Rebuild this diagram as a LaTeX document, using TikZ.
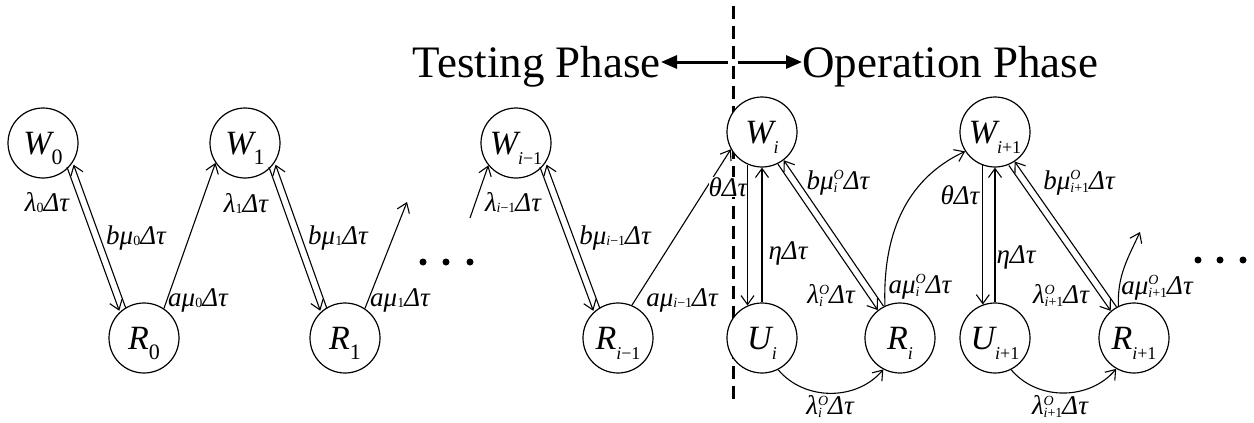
\documentclass[tikz,border=0pt]{standalone}
\usepackage{fontspec}
\setmainfont{Liberation Serif}
\usetikzlibrary{arrows.meta,calc,positioning}

% subscripts: in a state, in a rate, and O over a subscript
\newcommand{\ns}[2][22]{\raisebox{-10pt}{\fontsize{#1}{#1}\selectfont #2}}
\newcommand{\rs}[1]{\raisebox{-1pt}{\fontsize{14}{14}\selectfont #1}}
\newcommand{\rso}[1]{\raisebox{-2.5pt}{\fontsize{14}{14}\selectfont\def\arraystretch{0.7}%
  \begin{tabular}[b]{@{}l@{}}O\\#1\end{tabular}}}

\tikzset{
  state/.style={circle, draw, fill=white, line width=1.2pt, minimum size=70pt,
    inner sep=0pt, text depth=0pt, font=\fontsize{34}{34}\selectfont\itshape},
  rate/.style={inner sep=1pt, font=\fontsize{27}{27}\selectfont\itshape},
  trans/.style={line width=1.1pt, -{Straight Barb[length=9pt,width=13pt,line width=1.1pt]}},
  phase/.style={inner sep=0pt, text depth=0pt, font=\fontsize{45}{45}\selectfont},
  phasearrow/.style={line width=3pt, -{Triangle[length=16pt,width=13pt]}},
  divider/.style={line width=3pt, dash pattern=on 13pt off 7pt},
}

\begin{document}
\begin{tikzpicture}[x=1pt, y=-1pt]
	\useasboundingbox (0,0) rectangle (1254,423);

	% === phase divider ===
	\coordinate (divtop) at (733,6);
	\coordinate (divbot) at (733,406);
	\draw[divider] (divtop) -- (divbot);

	\node[phase, anchor=base east] (testing) at (661,77) {Testing Phase};
	\node[phase, anchor=base west] (operation) at (802,77) {Operation Phase};
	\coordinate (divL) at (728,62);
	\coordinate (divR) at (738,62);
	\draw[phasearrow] (divL) -- (divL -| testing.east);
	\draw[phasearrow] (divR) -- (divR -| operation.west);

	% === states ===
	\node[state] (W0)  at (43,143)   {W\ns{\upshape 0}};
	\node[state] (R0)  at (144,338)  {R\ns{\upshape 0}};
	\node[state] (W1)  at (245,143)  {W\ns{\upshape 1}};
	\node[state] (R1)  at (345,338)  {R\ns{\upshape 1}};
	\node[state] (Wim) at (516,143)  {W\ns[18]{i\upshape −1}};
	\node[state] (Rim) at (618,338)  {R\ns[18]{i\upshape −1}};
	\node[state] (Wi)  at (762,132)  {W\ns[18]{i}};
	\node[state] (Ui)  at (762,338)  {U\ns[18]{i}};
	\node[state] (Ri)  at (900,338)  {R\ns[18]{i}};
	\node[state] (Wip) at (995,132)  {W\ns[18]{i\upshape +1}};
	\node[state] (Uip) at (995,338)  {U\ns[18]{i\upshape +1}};
	\node[state] (Rip) at (1134,338) {R\ns[18]{i\upshape +1}};

	% free ends
	\coordinate (outR1)  at (407,202);
	\coordinate (inWim)  at (470,218);
	\coordinate (outRip) at (1140,232);

	% === testing phase ===
	\foreach \w/\r in {W0/R0, W1/R1, Wim/Rim} {
		\draw[trans] ($(\w.-40)!3.5pt!-90:(\r.127)$) -- ($(\r.127)!3.5pt!90:(\w.-40)$);	% failure
		\draw[trans] ($(\r.127)!3.5pt!-90:(\w.-40)$) -- ($(\w.-40)!3.5pt!90:(\r.127)$);	% repair
	}
	\draw[trans] (R0.56) -- (W1.214);
	\draw[trans] (R1.56) -- (outR1);
	\draw[trans] (inWim) -- (Wim.219);
	\draw[trans] (Rim.67) -- (Wi.209);

	% === operation phase ===
	\draw[trans] (Wi.-114) -- (Ui.114);
	\draw[trans] (Ui.north) -- (Wi.south);
	\draw[trans] ($(Wi.-58)!3.5pt!-90:(Ri.123)$) -- ($(Ri.123)!3.5pt!90:(Wi.-58)$);
	\draw[trans] ($(Ri.123)!3.5pt!-90:(Wi.-58)$) -- ($(Wi.-58)!3.5pt!90:(Ri.123)$);
	\draw[trans] (Ui.-63) to[out=-50, in=-130] (Ri.-118);
	\draw[trans] (Ri.115) to[out=92, in=205] (Wip.213);

	\draw[trans] (Wip.-110) -- (Uip.110);
	\draw[trans] (Uip.north) -- (Wip.south);
	\draw[trans] ($(Wip.-62)!3.5pt!-90:(Rip.125)$) -- ($(Rip.125)!3.5pt!90:(Wip.-62)$);
	\draw[trans] ($(Rip.125)!3.5pt!-90:(Wip.-62)$) -- ($(Wip.-62)!3.5pt!90:(Rip.125)$);
	\draw[trans] (Uip.-63) to[out=-50, in=-130] (Rip.-120);
	\draw[trans] (Rip.116) to[out=92, in=245] (outRip);

	% === rates ===
	\node[rate] (l0)  at (47,203)   {λ\rs{\upshape 0}Δτ};
	\node[rate] (m0)  at (136,238)  {bμ\rs{\upshape 0}Δτ};
	\node[rate] (a0)  at (198,300)  {aμ\rs{\upshape 0}Δτ};
	\node[rate] (l1)  at (246,203)  {λ\rs{\upshape 1}Δτ};
	\node[rate] (m1)  at (338,238)  {bμ\rs{\upshape 1}Δτ};
	\node[rate] (a1)  at (400,300)  {aμ\rs{\upshape 1}Δτ};
	\node[rate] (lim) at (513,202)  {λ\rs{i\upshape −1}Δτ};
	\node[rate] (mim) at (615,238)  {bμ\rs{i\upshape −1}Δτ};
	\node[rate] (aim) at (682,300)  {aμ\rs{i\upshape −1}Δτ};

	\node[rate, fill=white, inner sep=0pt] (thi) at (728,187) {θΔτ};
	\node[rate] (mi)  at (838,183)  {bμ\rso{i}Δτ};
	\node[rate] (eti) at (788,253)  {ηΔτ};
	\node[rate] (li)  at (831,297)  {λ\rso{i}Δτ};
	\node[rate] (ai)  at (920,287)  {aμ\rso{i}Δτ};
	\node[rate] (lui) at (830,408)  {λ\rso{i}Δτ};

	\node[rate] (thp) at (960,195)  {θΔτ};
	\node[rate] (etp) at (1016,257) {ηΔτ};
	\node[rate] (mp)  at (1079,183) {bμ\rso{i\upshape +1}Δτ};
	\node[rate] (lp)  at (1061,297) {λ\rso{i\upshape +1}Δτ};
	\node[rate] (ap)  at (1157,288) {aμ\rso{i\upshape +1}Δτ};
	\node[rate] (lup) at (1060,408) {λ\rso{i\upshape +1}Δτ};

	% === dots ===
	\foreach \x in {423,446,470} \fill (\x,262) circle[radius=3.5pt];
	\foreach \x in {1198,1220,1243} \fill (\x,260) circle[radius=3.5pt];
\end{tikzpicture}
\end{document}
